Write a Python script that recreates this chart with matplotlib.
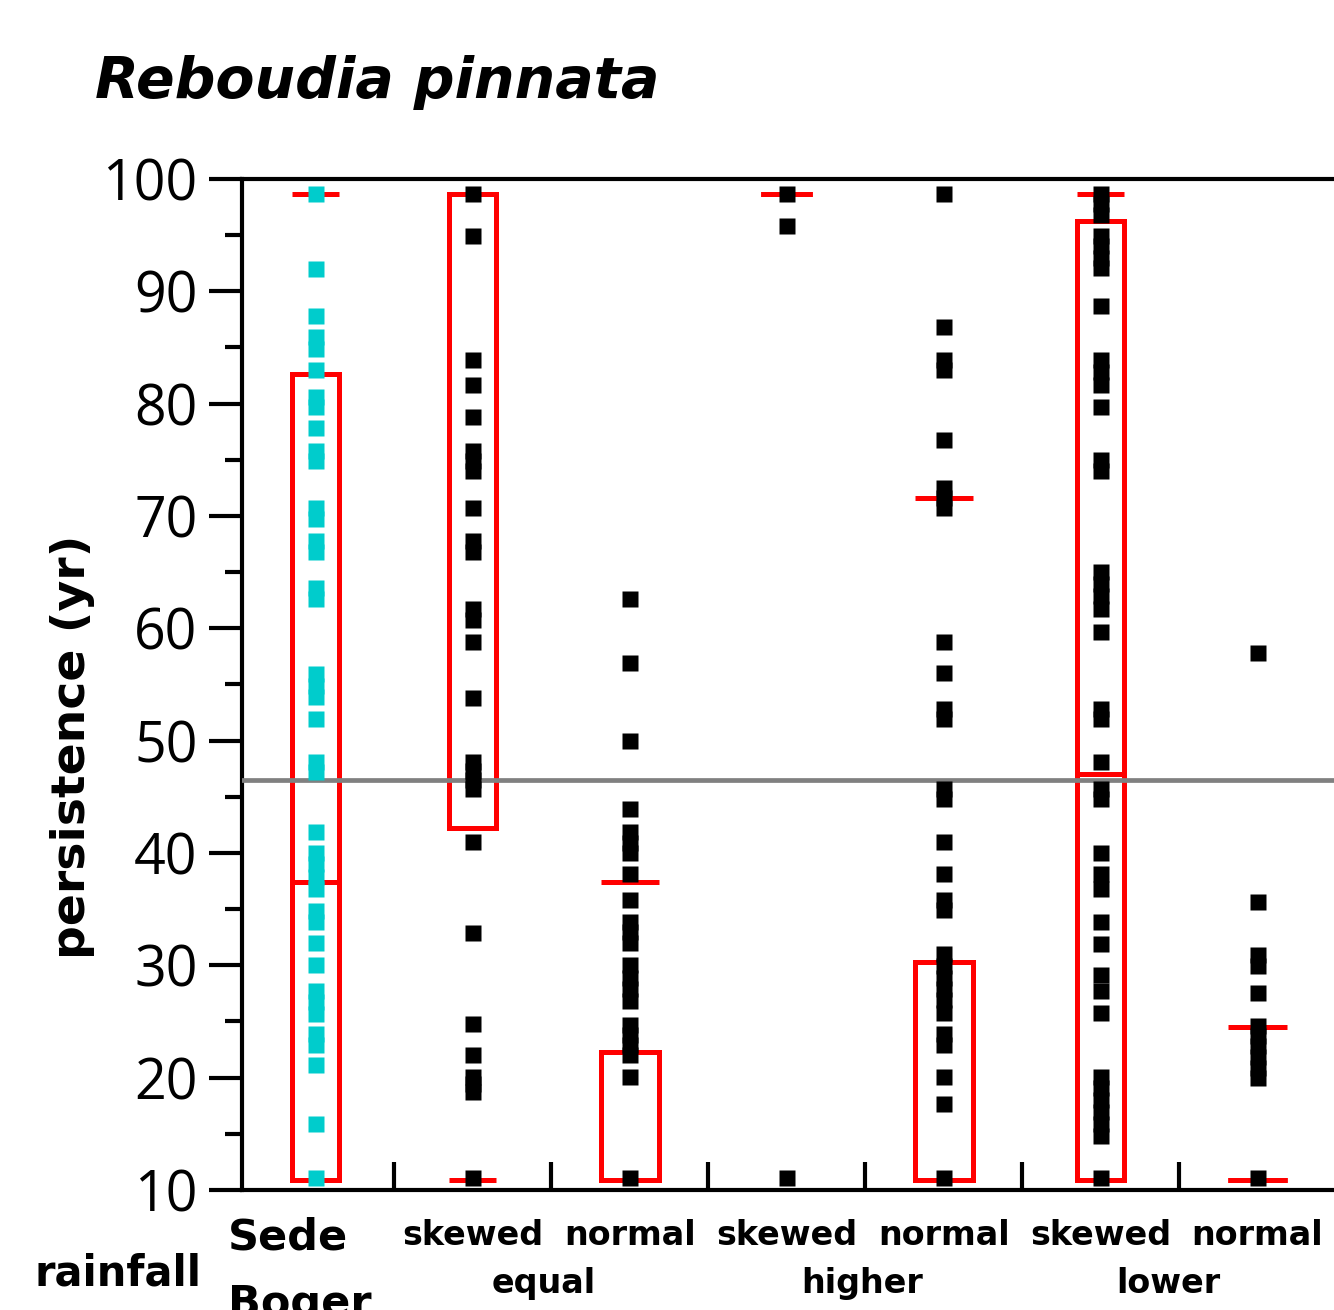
import numpy as np
import matplotlib.pyplot as plt
from matplotlib.patches import Rectangle

# groups along the x axis (left to right)
group_names = ["Sede Boger", "skewed equal", "normal equal", "skewed higher",
               "normal higher", "skewed lower", "normal lower"]
shapes = ["skewed", "normal", "skewed", "normal", "skewed", "normal"]
rain_levels = ["equal", "higher", "lower"]

# persistence values (yr) per group
sede_boger = [98.7, 92.0, 87.8, 85.9, 84.9, 83.0, 80.6, 79.7, 77.8, 75.8, 74.9,
              70.7, 69.7, 67.8, 66.8, 63.6, 62.6, 55.9, 54.9, 53.9, 51.9, 48.1,
              47.2, 41.9, 40.0, 39.0, 37.9, 36.8, 34.8, 33.9, 32.0, 30.0, 27.7,
              26.7, 25.7, 23.9, 22.9, 21.1, 15.9, 11.1]
skewed_equal = [98.7, 94.9, 83.9, 81.7, 78.8, 75.8, 74.9, 74.0, 70.7, 67.8, 66.8,
                61.7, 60.7, 58.8, 53.8, 48.1, 47.3, 46.5, 45.7, 41.0, 32.9, 24.8,
                22.0, 20.1, 19.4, 18.7, 11.1]
normal_equal = [62.6, 56.9, 50.0, 43.9, 41.9, 40.9, 40.0, 38.1, 35.8, 33.9, 33.0,
                32.0, 30.0, 28.9, 27.9, 26.8, 24.7, 23.8, 22.9, 22.0, 20.1, 11.1]
skewed_higher = [98.7, 95.8, 11.1]
normal_higher = [98.7, 86.8, 83.9, 83.0, 76.8, 72.5, 71.6, 70.7, 58.8, 56.0, 52.8,
                 51.9, 45.7, 44.8, 41.0, 38.1, 35.8, 34.9, 31.0, 29.9, 28.9, 27.9,
                 26.9, 25.8, 23.9, 22.9, 20.1, 17.7, 11.1]
skewed_lower = [98.7, 97.8, 96.8, 94.9, 94.0, 93.0, 92.1, 88.7, 83.9, 82.8, 81.7,
                79.7, 75.0, 74.0, 65.0, 63.9, 62.9, 61.7, 59.7, 52.8, 51.9, 48.1,
                45.7, 44.8, 40.0, 38.1, 36.8, 33.9, 31.9, 29.1, 27.7, 25.8, 20.1,
                19.1, 18.0, 16.9, 15.9, 14.8, 11.1]
normal_lower = [57.8, 35.6, 30.9, 29.9, 27.5, 24.6, 23.7, 22.8, 21.8, 20.9, 20.0, 11.1]
groups = [sede_boger, skewed_equal, normal_equal, skewed_higher,
          normal_higher, skewed_lower, normal_lower]

# red summary marks per group
whisker_lo = [10.9, 10.9, 10.9, 98.7, 10.9, 10.9, 10.9]
box_lo = [10.9, 42.2, 10.9, 98.7, 10.9, 10.9, 10.9]
center = [37.4, 98.7, 37.4, 98.7, 71.6, 47.0, 24.5]
box_hi = [82.6, 98.7, 22.3, 98.7, 30.3, 96.3, 10.9]
whisker_hi = [98.7, 98.7, 22.3, 98.7, 30.3, 98.7, 10.9]
box_width = [0.30, 0.30, 0.37, 0.32, 0.37, 0.30, 0.38]

reference_line = 46.5

red = "#FF0000"
cyan = "#00CCCC"

fig = plt.figure(figsize=(13.34, 13.10), dpi=100)
ax = fig.add_axes([0.1814, 0.0916, 1 - 0.1814, 0.7718])

x = np.arange(len(groups))
for i in x:
    w = box_width[i]
    ax.add_patch(Rectangle((i - w / 2, box_lo[i]), w, box_hi[i] - box_lo[i],
                           fill=False, edgecolor=red, lw=3.6, zorder=2))
    ax.hlines([whisker_lo[i], whisker_hi[i], center[i]], i - w / 2, i + w / 2,
              color=red, lw=3.6, zorder=2)

ax.axhline(reference_line, color="#808080", lw=3.4, zorder=3)

for i, vals in enumerate(groups):
    c = cyan if i == 0 else "black"
    ax.plot(np.full(len(vals), i), vals, "s", ms=12, color=c, mec="none", zorder=4)

ax.set_xlim(-0.469, 6.487)
ax.set_ylim(10, 100)

ax.spines["right"].set_visible(False)
for s in ["left", "bottom", "top"]:
    ax.spines[s].set_linewidth(3)

ax.set_yticks(np.arange(10, 101, 10))
ax.set_yticks(np.arange(15, 100, 10), minor=True)
ax.tick_params(axis="y", which="major", length=24, width=3, pad=8, labelsize=40)
ax.tick_params(axis="y", which="minor", length=12, width=3)
for lab in ax.get_yticklabels():
    lab.set_family("Open Sans")

ax.set_xticks(x[:-1] + 0.5)
ax.set_xticklabels([])
ax.tick_params(axis="x", which="major", direction="in", length=20, width=3)

# text
fig.text(0.071, 0.925, "Reboudia pinnata", fontsize=41, fontweight="bold",
         style="italic", family="DejaVu Sans")
fig.text(0.054, 0.43, "persistence (yr)", rotation=90, fontsize=34,
         fontweight="bold", ha="center", va="center")
fig.text(0.026, 0.019, "rainfall", fontsize=30, fontweight="bold", va="baseline")

bold = dict(fontweight="bold", transform=ax.get_xaxis_transform())
ax.text(-0.558, -0.059, "Sede", fontsize=31, ha="left", va="baseline", **bold)
ax.text(-0.558, -0.125, "Boger", fontsize=31, ha="left", va="baseline", **bold)
for i, s in enumerate(shapes):
    ax.text(i + 1, -0.054, s, fontsize=24, ha="center", va="baseline", **bold)
label_pos = [1.45, 3.48, 5.43]
for p, r in zip(label_pos, rain_levels):
    ax.text(p, -0.102, r, fontsize=24, ha="center", va="baseline", **bold)

plt.savefig("out.png", dpi=100)
